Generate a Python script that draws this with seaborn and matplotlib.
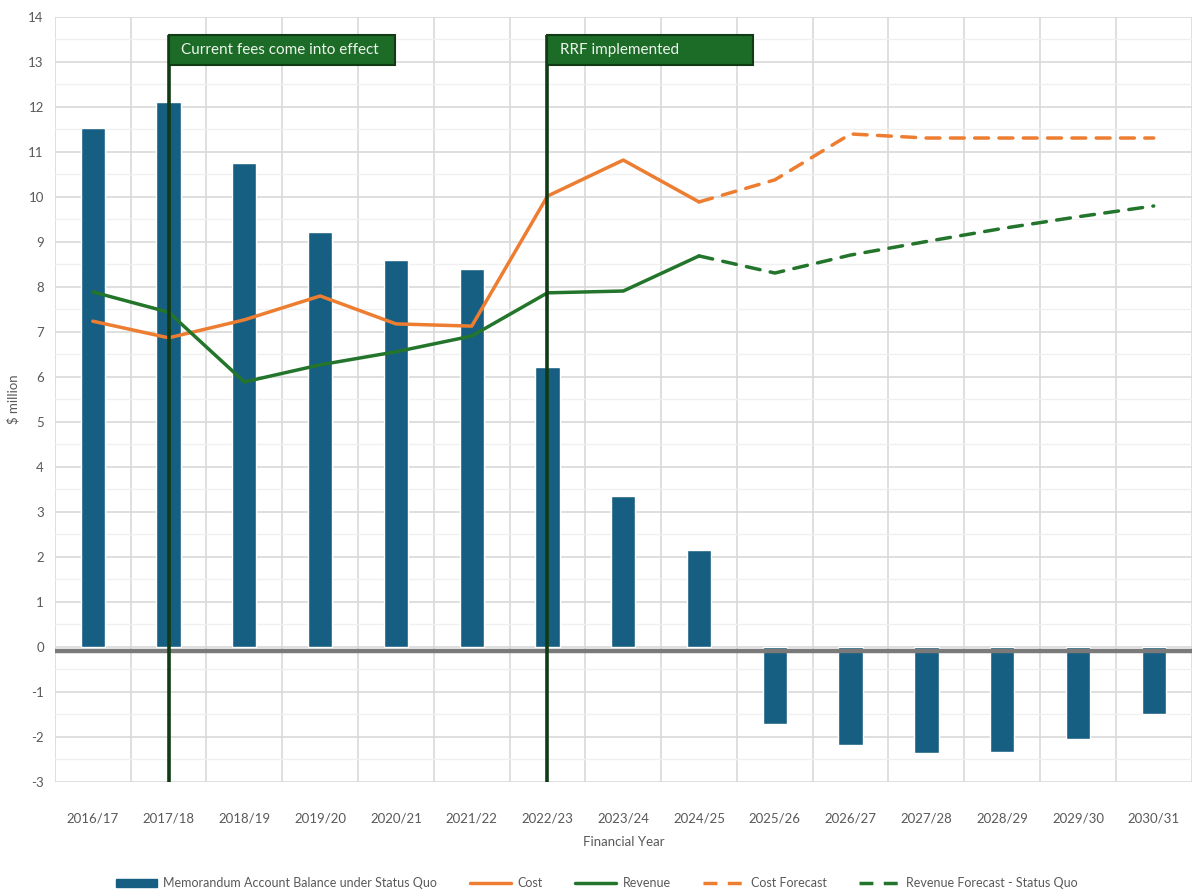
import matplotlib
matplotlib.use("Agg")
import matplotlib.pyplot as plt
import seaborn as sns
import pandas as pd
import numpy as np
from matplotlib.patches import Patch, Rectangle
from matplotlib.lines import Line2D
from matplotlib.ticker import MultipleLocator

years = ["2016/17", "2017/18", "2018/19", "2019/20", "2020/21", "2021/22", "2022/23",
         "2023/24", "2024/25", "2025/26", "2026/27", "2027/28", "2028/29", "2029/30", "2030/31"]
balance = [11.53, 12.11, 10.76, 9.22, 8.60, 8.40, 6.22, 3.36, 2.16,
           -1.71, -2.18, -2.36, -2.33, -2.04, -1.49]
cost_years = years[:9]
cost = [7.24, 6.87, 7.27, 7.80, 7.18, 7.13, 10.02, 10.82, 9.89]
revenue = [7.89, 7.44, 5.89, 6.27, 6.56, 6.91, 7.87, 7.91, 8.69]
fc_years = years[8:]
cost_fc = [9.89, 10.38, 11.40, 11.31, 11.31, 11.31, 11.31]
rev_fc = [8.69, 8.31, 8.71, 9.01, 9.30, 9.56, 9.80]
events = [("2017/18", "Current fees come into effect", 3.985),
          ("2022/23", "RRF implemented", 8.71)]

BAR = "#175f82"
ORANGE = "#ed7d31"
GREEN = "#23752b"
BOX = "#1c6b27"
VLINE = "#103b14"
TXT = "#595959"

sns.set_theme(style="white")
plt.rcParams["font.family"] = ["Lato", "DejaVu Sans"]
plt.rcParams["axes.unicode_minus"] = False

fig = plt.figure(figsize=(11.94, 8.93), dpi=100)
ax = fig.add_axes([0.046, 0.1243, 0.952, 0.8567])

df_bar = pd.DataFrame({"year": years, "balance": balance})
sns.barplot(data=df_bar, x="year", y="balance", order=years, color=BAR,
            width=0.32, saturation=1, ax=ax, zorder=3)

pos = {y: i for i, y in enumerate(years)}
df_hist = pd.DataFrame({"x": [pos[y] for y in cost_years], "cost": cost, "revenue": revenue})
df_fc = pd.DataFrame({"x": [pos[y] for y in fc_years], "cost": cost_fc, "revenue": rev_fc})

sns.lineplot(data=df_hist, x="x", y="cost", color=ORANGE, lw=2.5, ax=ax, zorder=4)
sns.lineplot(data=df_hist, x="x", y="revenue", color=GREEN, lw=2.5, ax=ax, zorder=4)
sns.lineplot(data=df_fc, x="x", y="cost", color=ORANGE, lw=2.5, ax=ax, zorder=4)
sns.lineplot(data=df_fc, x="x", y="revenue", color=GREEN, lw=2.5, ax=ax, zorder=4)
for ln in ax.lines[-2:]:
    ln.set_dashes((4, 3))
    ln.set_dash_capstyle("round")

ax.set_xlim(-0.5, len(years) - 0.5)
ax.set_ylim(-3, 14)
ax.yaxis.set_major_locator(MultipleLocator(1))
ax.yaxis.set_minor_locator(MultipleLocator(0.5))
ax.set_xticks(range(len(years)))
ax.set_xticks(np.arange(-0.5, len(years), 1), minor=True)
ax.grid(which="major", axis="y", color="#d9d9d9", lw=1.2, zorder=0)
ax.grid(which="minor", axis="y", color="#f0f0f0", lw=1.0, zorder=0)
ax.grid(which="minor", axis="x", color="#d9d9d9", lw=1.2, zorder=0)
ax.grid(which="major", axis="x", visible=False)
ax.set_axisbelow(True)
for s in ax.spines.values():
    s.set_visible(False)
ax.tick_params(axis="both", which="both", length=0, colors=TXT, labelsize=9.5)
ax.tick_params(axis="x", pad=22)
ax.tick_params(axis="y", pad=8)

ax.axhline(-0.09, color="#7a7a7a", lw=3.2, zorder=5)

for yr, label, x_end in events:
    xi = pos[yr]
    ax.plot([xi, xi], [-3, 13.6], color=VLINE, lw=2.6, zorder=6, solid_capstyle="butt")
    ax.add_patch(Rectangle((xi, 12.93), x_end - xi, 0.67, facecolor=BOX,
                           edgecolor=VLINE, lw=1.5, zorder=7))
    ax.text(xi + 0.16, 13.265, label, color="#eef5ee", fontsize=11,
            va="center", ha="left", zorder=8)

ax.set_xlabel("Financial Year", color=TXT, fontsize=9.5, labelpad=8)
ax.set_ylabel("$ million", color=TXT, fontsize=9.5, labelpad=6)

handles = [Patch(facecolor=BAR, edgecolor=BAR),
           Line2D([], [], color=ORANGE, lw=2.5),
           Line2D([], [], color=GREEN, lw=2.5),
           Line2D([], [], color=ORANGE, lw=2.5, dashes=(4, 3)),
           Line2D([], [], color=GREEN, lw=2.5, dashes=(4, 3))]
labels = ["Memorandum Account Balance under Status Quo", "Cost", "Revenue",
          "Cost Forecast", "Revenue Forecast - Status Quo"]
leg = fig.legend(handles, labels, loc="center", bbox_to_anchor=(0.5, 0.011), ncol=5,
                 frameon=False, fontsize=9, handlelength=3.3, columnspacing=2.6,
                 handleheight=0.6, handletextpad=0.5)
for t in leg.get_texts():
    t.set_color(TXT)

fig.savefig("out.png", dpi=100)
